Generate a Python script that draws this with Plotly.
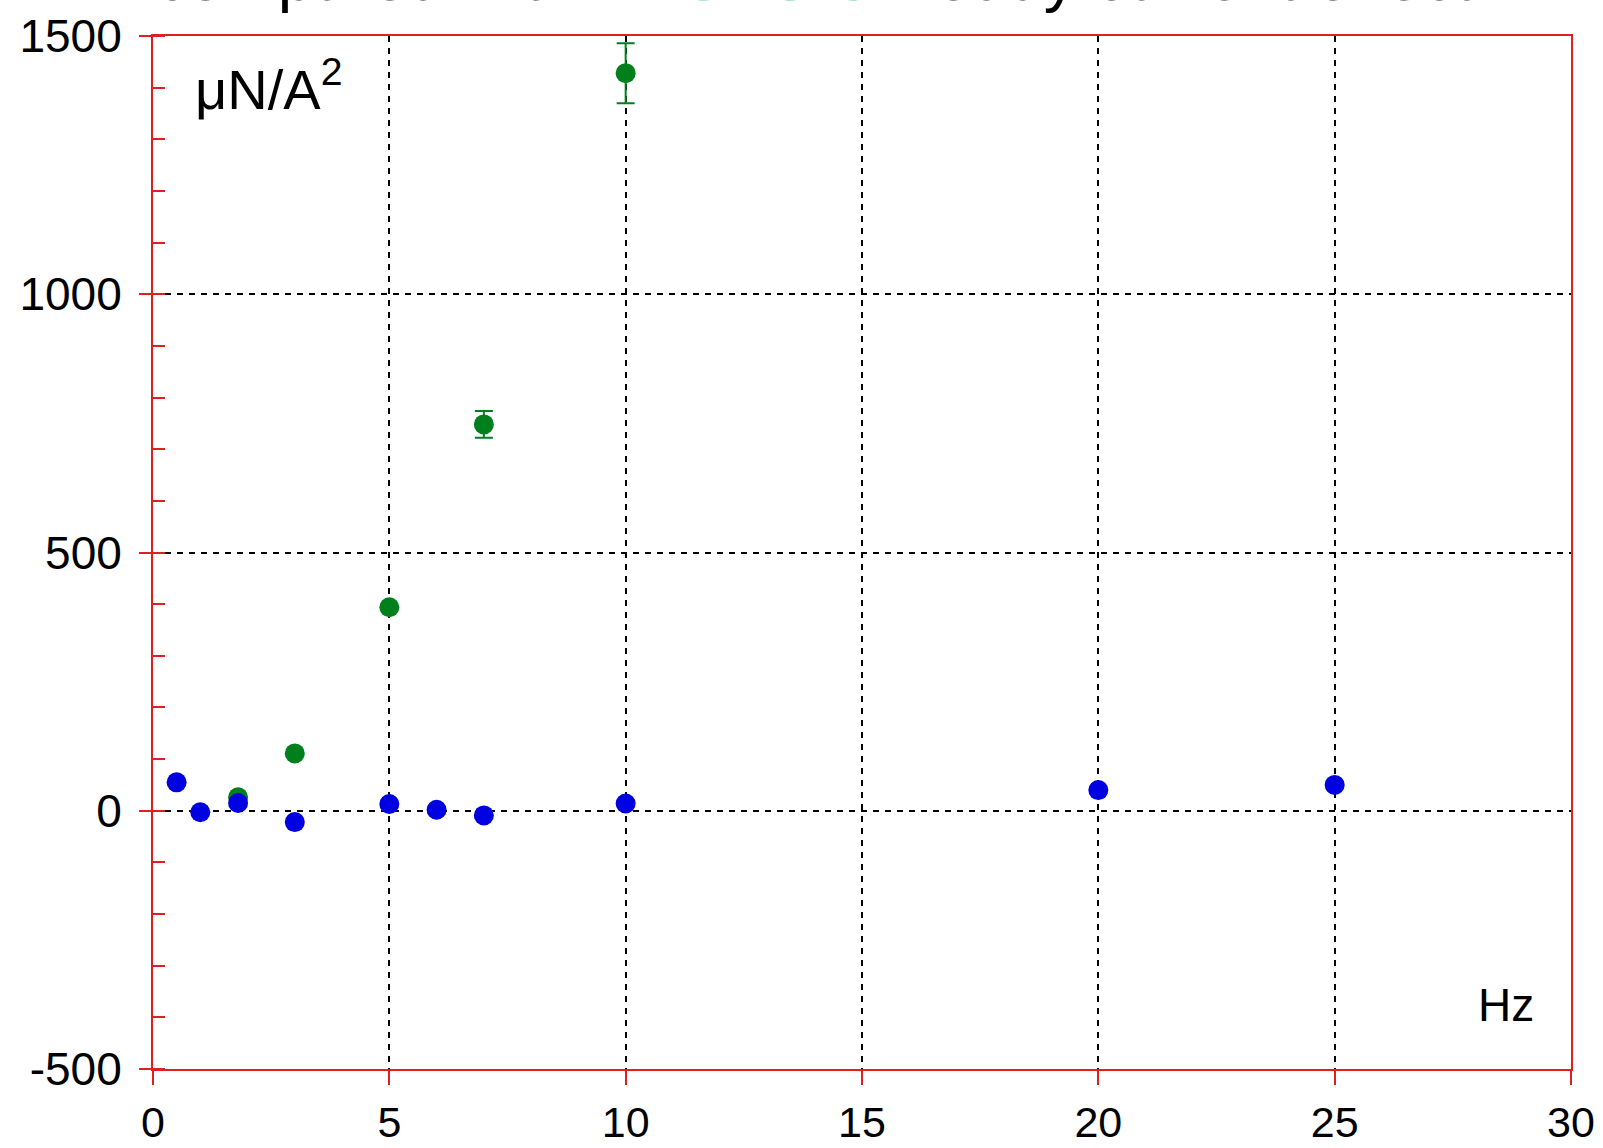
import plotly.graph_objects as go

# Data
blue_x = [0.5, 1.0, 1.8, 3.0, 5.0, 6.0, 7.0, 10.0, 20.0, 25.0]
blue_y = [55, -3, 15, -22, 13, 2, -9, 14, 40, 50]
blue_err = [0, 0, 0, 0, 0, 0, 0, 0, 18, 0]

green_x = [1.8, 3.0, 5.0, 7.0, 10.0]
green_y = [26, 111, 394, 748, 1428]
green_err = [0, 0, 0, 26, 58]

x_ticks = [0, 5, 10, 15, 20, 25, 30]
y_ticks = [-500, 0, 500, 1000, 1500]

font_family = "Liberation Sans, Arial, sans-serif"
BLUE = "#0000e0"
GREEN = "#00801c"
RED = "#e02020"

fig = go.Figure()
fig.add_trace(go.Scatter(
    x=green_x, y=green_y, mode="markers",
    marker=dict(color=GREEN, size=20, line=dict(width=0)),
    error_y=dict(type="data", array=green_err, visible=True, color=GREEN,
                 thickness=2, width=9),
    showlegend=False,
))
fig.add_trace(go.Scatter(
    x=blue_x, y=blue_y, mode="markers",
    marker=dict(color=BLUE, size=20, line=dict(width=0)),
    error_y=dict(type="data", array=blue_err, visible=True, color=BLUE,
                 thickness=2, width=0),
    showlegend=False,
))

fig.update_layout(
    width=1603, height=1148,
    margin=dict(l=153, r=32, t=36, b=79, autoexpand=False),
    plot_bgcolor="white", paper_bgcolor="white",
    font=dict(family=font_family, size=46, color="black"),
    xaxis=dict(
        range=[0, 30], tickvals=x_ticks, ticktext=[str(v) for v in x_ticks],
        showline=True, linecolor=RED, linewidth=2, mirror=True,
        ticks="outside", ticklen=14, tickwidth=2, tickcolor=RED,
        showgrid=True, gridcolor="black", gridwidth=1.5, griddash="6px,6px",
        zeroline=False, tickfont=dict(size=43), ticklabelstandoff=0,
        automargin=False,
    ),
    yaxis=dict(
        range=[-500, 1500], tickvals=y_ticks, ticktext=[str(v) for v in y_ticks],
        showline=True, linecolor=RED, linewidth=2, mirror=True,
        ticks="outside", ticklen=12, tickwidth=2, tickcolor=RED,
        minor=dict(dtick=100, ticks="inside", ticklen=12, tickwidth=2,
                   tickcolor=RED, showgrid=False),
        showgrid=True, gridcolor="black", gridwidth=1.5, griddash="6px,6px",
        zeroline=False, tickfont=dict(size=46), ticklabelstandoff=8,
        automargin=False,
    ),
    annotations=[
        dict(text="μN/A<sup>2</sup>", xref="paper", yref="paper",
             x=0.028, y=0.988, xanchor="left", yanchor="top",
             showarrow=False, font=dict(size=56, color="black")),
        dict(text="Hz", xref="paper", yref="paper",
             x=0.975, y=0.035, xanchor="right", yanchor="bottom",
             showarrow=False, font=dict(size=46, color="black")),
        dict(text="compared with <span style='color:#5cc8c8'>ANSYS-3D</span> eddy current effect",
             xref="paper", yref="paper", x=0.0, y=1.019,
             xanchor="left", yanchor="bottom", showarrow=False,
             font=dict(size=65, color="black")),
    ],
)

fig.write_html("out.html")
